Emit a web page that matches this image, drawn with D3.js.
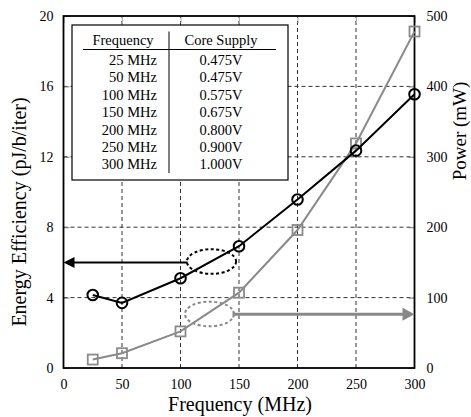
<!DOCTYPE html>
<html><head><meta charset="utf-8">
<script src="https://cdn.jsdelivr.net/npm/d3@7"></script>
<style>body{margin:0;background:#fff}svg{display:block}text{font-family:"Liberation Serif","Times New Roman",serif}</style>
</head><body><svg id="c" width="471" height="417"></svg>
<script>
const freqs = [25, 50, 100, 150, 200, 250, 300];
const efficiency = [4.15, 3.7, 5.1, 6.92, 9.57, 12.35, 15.55];
const power = [12, 21, 52, 107, 196, 319, 478];
const xTicks = [0, 50, 100, 150, 200, 250, 300];
const yLeftTicks = [0, 4, 8, 12, 16, 20];
const yRightTicks = [0, 100, 200, 300, 400, 500];
const tableFreq = ["25 MHz", "50 MHz", "100 MHz", "150 MHz", "200 MHz", "250 MHz", "300 MHz"];
const tableSupply = ["0.475V", "0.475V", "0.575V", "0.675V", "0.800V", "0.900V", "1.000V"];
// annotations in data units: [xStart, xEnd, yLeft]
const effArrow = [106, 0, 6];
const effEllipse = [126.5, 6.05, 21, 0.7];   // cx, cy(left units), rx(x units), ry(left units)
const powArrow = [145, 300, 3.05];
const powEllipse = [124.8, 3.07, 21, 0.7];

const svg = d3.select("#c");
const x = d3.scaleLinear().domain([0, 300]).range([63.5, 414.5]);
const yL = d3.scaleLinear().domain([0, 20]).range([368, 16]);
const yR = d3.scaleLinear().domain([0, 500]).range([368, 16]);

// grid
const g = svg.append("g");
g.selectAll(".gv").data(xTicks.filter(d => d > 0 && d < 300)).enter().append("line")
  .attr("x1", d => x(d)).attr("x2", d => x(d)).attr("y1", yL(0)).attr("y2", yL(20))
  .attr("stroke", "#333").attr("stroke-width", 1).attr("stroke-dasharray", "4,3");
g.selectAll(".gh").data(yLeftTicks.filter(d => d > 0 && d < 20)).enter().append("line")
  .attr("y1", d => yL(d)).attr("y2", d => yL(d)).attr("x1", x(0)).attr("x2", x(300))
  .attr("stroke", "#333").attr("stroke-width", 1).attr("stroke-dasharray", "4,3");

// axes
const axL = svg.append("g").attr("transform", `translate(${x(0)},0)`)
  .call(d3.axisLeft(yL).tickValues(yLeftTicks).tickSize(-6).tickPadding(10));
const axR = svg.append("g").attr("transform", `translate(${x(300)},0)`)
  .call(d3.axisRight(yR).tickValues(yRightTicks).tickSize(-6).tickPadding(12));
const axB = svg.append("g").attr("transform", `translate(0,${yL(0)})`)
  .call(d3.axisBottom(x).tickValues(xTicks).tickSize(0).tickPadding(11));
const axT = svg.append("g").attr("transform", `translate(0,${yL(20)})`)
  .call(d3.axisTop(x).tickValues(xTicks).tickSize(-7).tickFormat(""));
[axL, axR, axB, axT].forEach(a => {
  a.attr("font-family", null);
  a.select(".domain").remove();
  a.selectAll("text").attr("font-size", 14).attr("fill", "#000");
  a.selectAll(".tick line").attr("stroke", "#777");
});
axT.selectAll(".tick line").attr("stroke", "#aaa");
// frame
svg.append("rect").attr("x", x(0)).attr("y", yL(20)).attr("width", x(300) - x(0)).attr("height", yL(0) - yL(20))
  .attr("fill", "none").attr("stroke", "#000").attr("stroke-width", 1.8);

// table legend
const tb = svg.append("g");
tb.append("rect").attr("x", 72).attr("y", 25).attr("width", 216).attr("height", 155)
  .attr("fill", "#fff").attr("stroke", "#000").attr("stroke-width", 1.2);
tb.append("line").attr("x1", 83).attr("x2", 276).attr("y1", 49.5).attr("y2", 49.5).attr("stroke", "#000").attr("stroke-width", 1);
tb.append("line").attr("x1", 169).attr("x2", 169).attr("y1", 31.5).attr("y2", 173).attr("stroke", "#000").attr("stroke-width", 1);
tb.append("text").attr("x", 123).attr("y", 45).attr("text-anchor", "middle").attr("font-size", 14.5).text("Frequency");
tb.append("text").attr("x", 221).attr("y", 45).attr("text-anchor", "middle").attr("font-size", 14.5).text("Core Supply");
tb.selectAll(".tf").data(tableFreq).enter().append("text")
  .attr("x", 157).attr("y", (d, i) => 65 + i * 17.4).attr("text-anchor", "end").attr("font-size", 14.5).text(d => d);
tb.selectAll(".ts").data(tableSupply).enter().append("text")
  .attr("x", 221).attr("y", (d, i) => 65 + i * 17.4).attr("text-anchor", "middle").attr("font-size", 14.5).text(d => d);

// annotations
svg.append("ellipse").attr("cx", x(effEllipse[0])).attr("cy", yL(effEllipse[1]))
  .attr("rx", x(effEllipse[2]) - x(0)).attr("ry", yL(0) - yL(effEllipse[3]))
  .attr("fill", "none").attr("stroke", "#000").attr("stroke-width", 2).attr("stroke-dasharray", "3,2.5");
svg.append("line").attr("x1", x(effArrow[0])).attr("x2", x(effArrow[1]) + 10)
  .attr("y1", yL(effArrow[2])).attr("y2", yL(effArrow[2])).attr("stroke", "#000").attr("stroke-width", 2);
svg.append("path").attr("d", `M${x(effArrow[1])},${yL(effArrow[2])} l11,-5.5 l0,11 z`).attr("fill", "#000");

svg.append("ellipse").attr("cx", x(powEllipse[0])).attr("cy", yL(powEllipse[1]))
  .attr("rx", x(powEllipse[2]) - x(0)).attr("ry", yL(0) - yL(powEllipse[3]))
  .attr("fill", "none").attr("stroke", "#888").attr("stroke-width", 2).attr("stroke-dasharray", "3,2.5");
svg.append("line").attr("x1", x(powArrow[0])).attr("x2", x(powArrow[1]) - 10)
  .attr("y1", yL(powArrow[2])).attr("y2", yL(powArrow[2])).attr("stroke", "#888").attr("stroke-width", 3);
svg.append("line").attr("x1", x(powArrow[0])).attr("x2", x(powArrow[0]))
  .attr("y1", yL(powArrow[2]) - 3.5).attr("y2", yL(powArrow[2]) + 3.5).attr("stroke", "#888").attr("stroke-width", 1.2);
svg.append("path").attr("d", `M${x(powArrow[1])},${yL(powArrow[2])} l-12,-6.5 l0,13 z`).attr("fill", "#888");

// power series
const pw = freqs.map((f, i) => [f, power[i]]);
svg.append("path").datum(pw).attr("fill", "none").attr("stroke", "#8a8a8a").attr("stroke-width", 2)
  .attr("d", d3.line().x(d => x(d[0])).y(d => yR(d[1])));
svg.selectAll(".sq").data(pw).enter().append("rect")
  .attr("x", d => x(d[0]) - 5).attr("y", d => yR(d[1]) - 5).attr("width", 10).attr("height", 10)
  .attr("fill", "none").attr("stroke", "#8a8a8a").attr("stroke-width", 1.8);

// efficiency series
const ef = freqs.map((f, i) => [f, efficiency[i]]);
svg.append("path").datum(ef).attr("fill", "none").attr("stroke", "#000").attr("stroke-width", 2)
  .attr("d", d3.line().x(d => x(d[0])).y(d => yL(d[1])));
svg.selectAll(".ci").data(ef).enter().append("circle")
  .attr("cx", d => x(d[0])).attr("cy", d => yL(d[1])).attr("r", 5.3)
  .attr("fill", "none").attr("stroke", "#000").attr("stroke-width", 2);

// titles
svg.append("text").attr("x", 240).attr("y", 411).attr("text-anchor", "middle").attr("font-size", 20).text("Frequency (MHz)");
svg.append("text").attr("transform", "translate(26,212) rotate(-90)").attr("text-anchor", "middle").attr("font-size", 20).text("Energy Efficiency (pJ/b/iter)");
svg.append("text").attr("transform", "translate(466,131) rotate(-90)").attr("text-anchor", "middle").attr("font-size", 19).text("Power (mW)");
</script></body></html>
